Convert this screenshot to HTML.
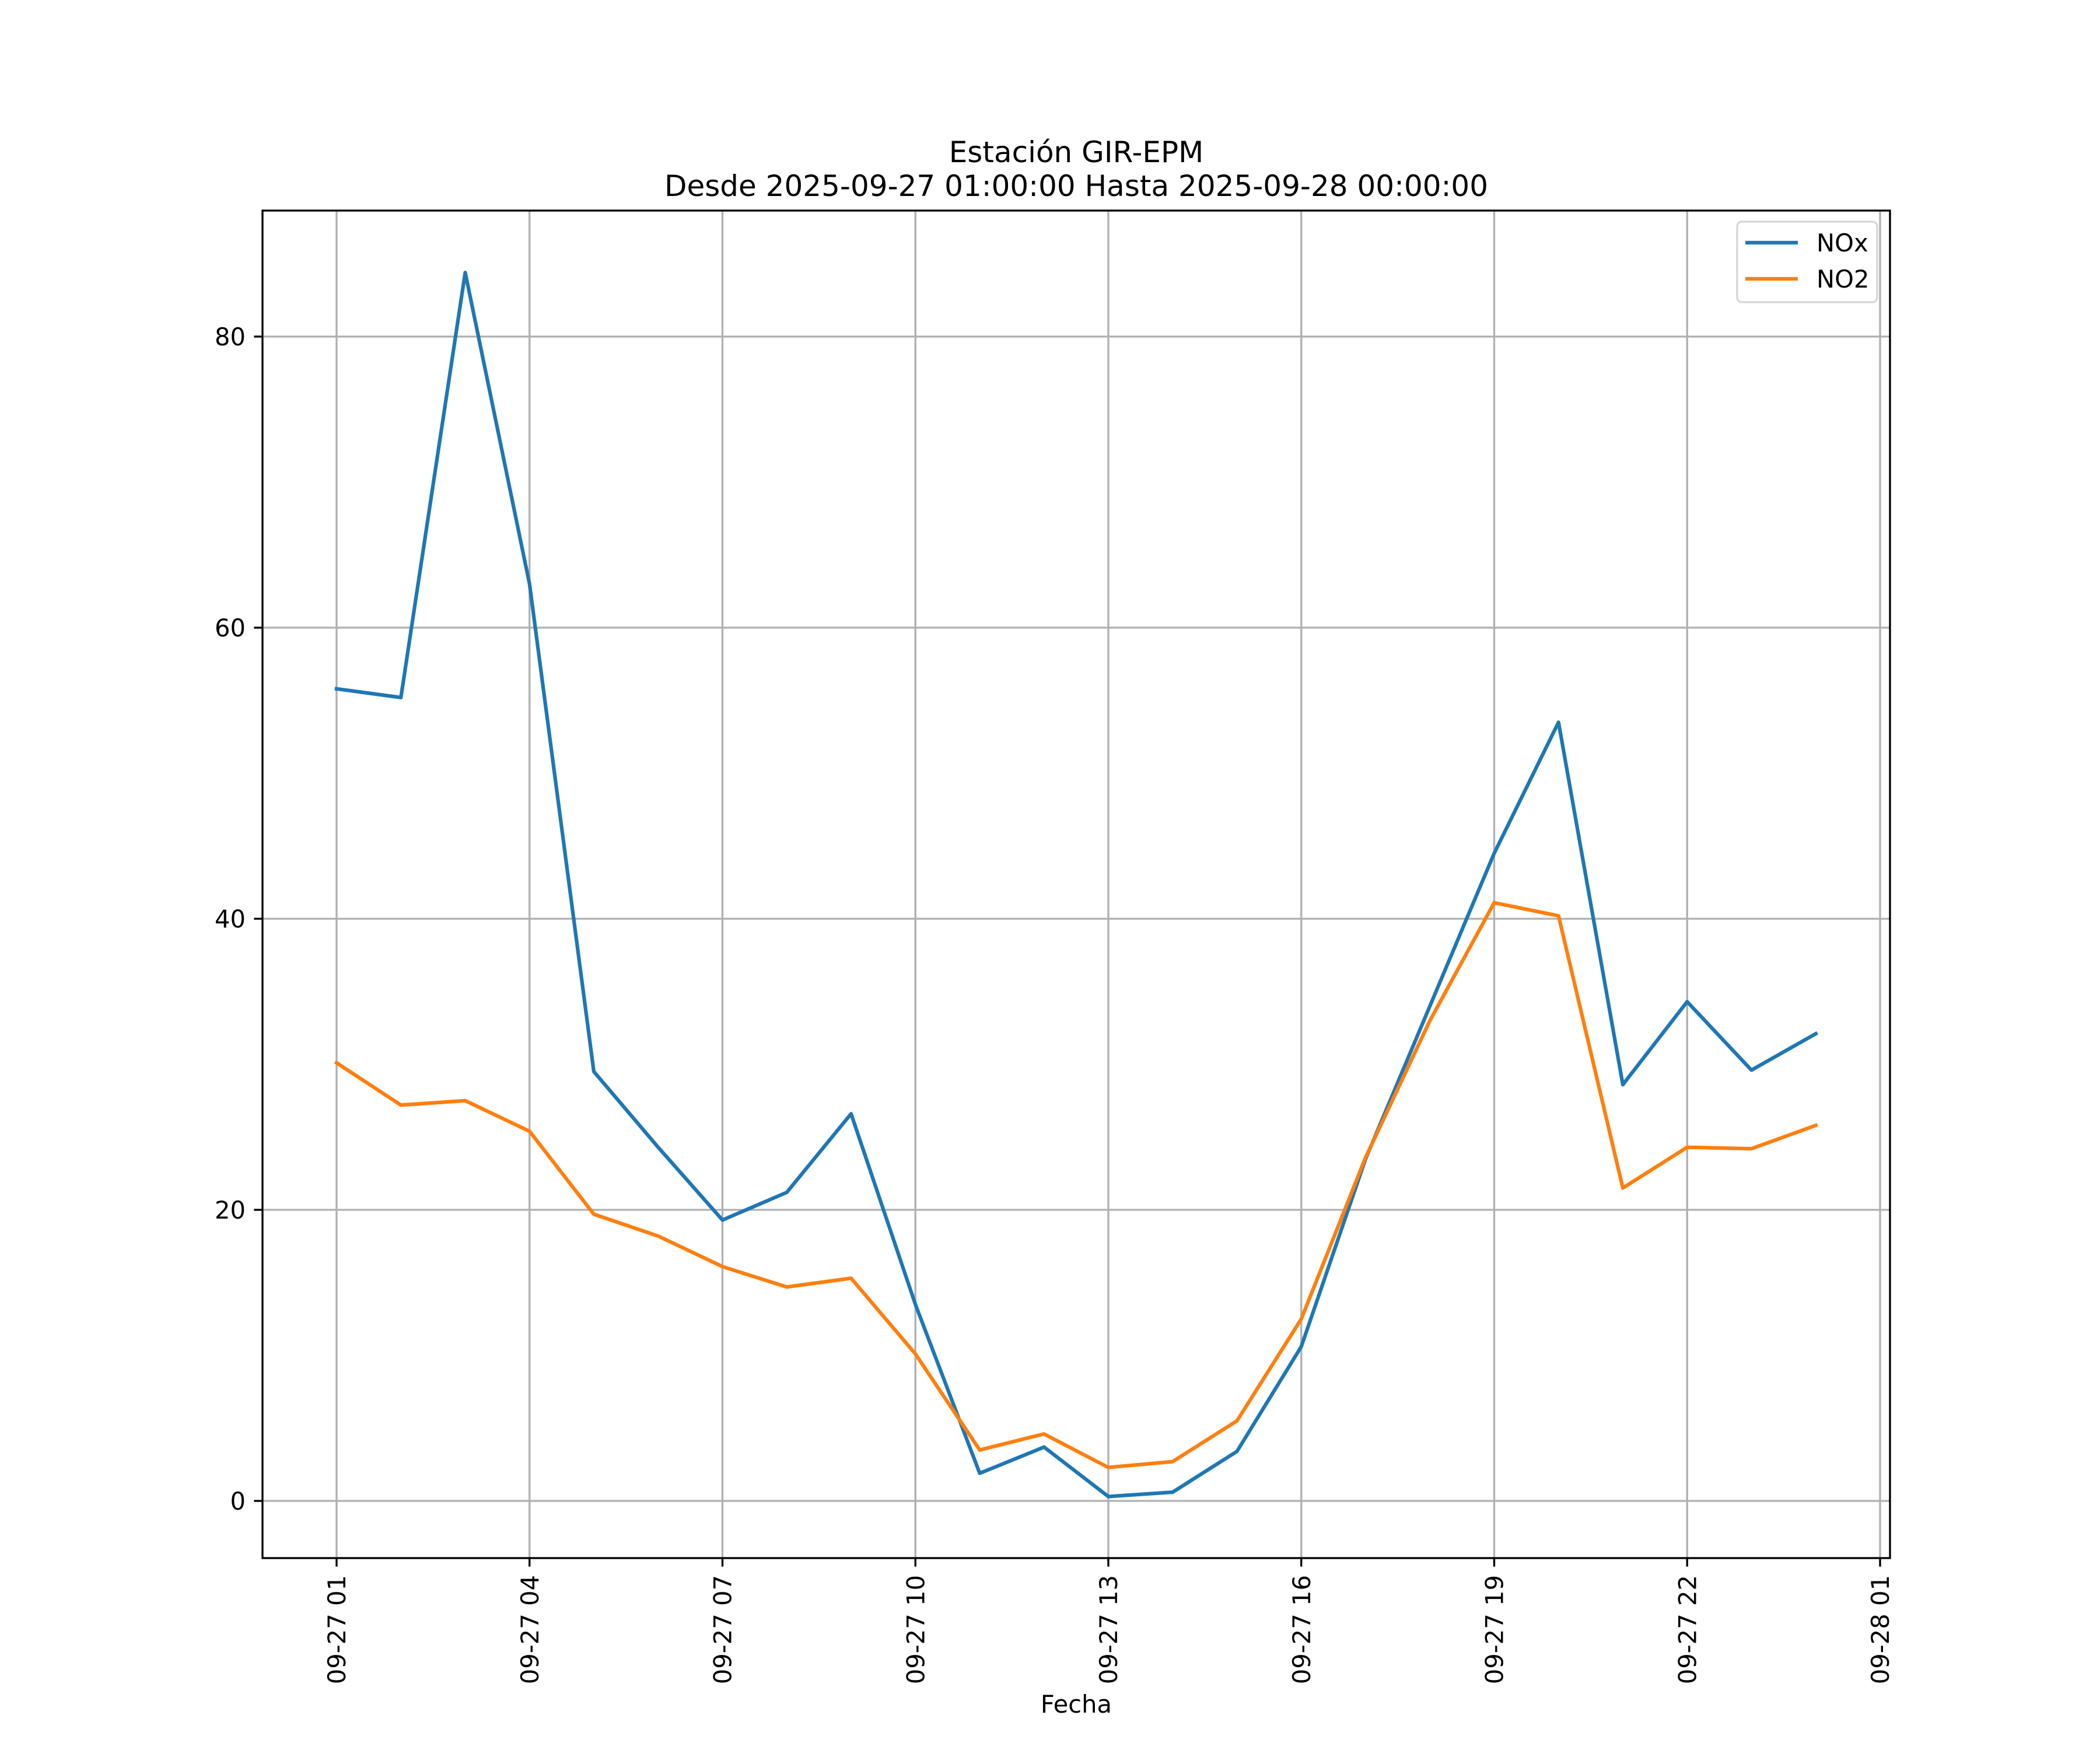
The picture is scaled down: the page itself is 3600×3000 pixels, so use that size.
<!DOCTYPE html>
<html><head><meta charset="utf-8"><style>html,body{margin:0;padding:0;background:#fff}svg{display:block}text{font-family:"DejaVu Sans","Liberation Sans",sans-serif;fill:#000}</style></head>
<body>
<svg id="chart" xmlns="http://www.w3.org/2000/svg" width="3600" height="3000" viewBox="0 0 3600 3000">
<rect width="3600" height="3000" fill="#fff"/>
<g id="grid"></g>
<g id="series"></g>
<rect x="450" y="361" width="2790" height="2310" fill="none" stroke="#000" stroke-width="3.33"/>
<g id="ticks"></g>
<text x="1845" y="278" font-size="50" text-anchor="middle">Estación GIR-EPM</text>
<text x="1845" y="336" font-size="50" text-anchor="middle">Desde 2025-09-27 01:00:00 Hasta 2025-09-28 00:00:00</text>
<text x="1845" y="2936" font-size="41.67" text-anchor="middle">Fecha</text>
<g>
<rect x="2978" y="380" width="240" height="138" rx="8" fill="#fff" fill-opacity="0.8" stroke="#d6d6d6" stroke-width="3.33"/>
<g><line x1="2992" y1="416" x2="3082" y2="416" stroke="#1f77b4" stroke-width="6.25"/><text x="3114" y="431" font-size="41.67">NOx</text></g>
<g><line x1="2992" y1="478" x2="3082" y2="478" stroke="#ff7f0e" stroke-width="6.25"/><text x="3114" y="493" font-size="41.67">NO2</text></g>
</g>
</svg>
<script>
const hours = [1,2,3,4,5,6,7,8,9,10,11,12,13,14,15,16,17,18,19,20,21,22,23,24];
const noxValues = [55.8,55.2,84.4,63,29.5,24.3,19.3,21.2,26.6,13.5,1.9,3.7,0.3,0.6,3.4,10.6,23.5,34,44.5,53.5,28.6,34.3,29.6,32.1];
const no2Values = [30.1,27.2,27.5,25.4,19.7,18.2,16.1,14.7,15.3,10.1,3.5,4.6,2.3,2.7,5.5,12.5,23.6,33,41.1,40.2,21.5,24.3,24.2,25.8];
const yTicks = [0,20,40,60,80];
const xTickHours = [1,4,7,10,13,16,19,22,25];
const xTickLabels = ["09-27 01","09-27 04","09-27 07","09-27 10","09-27 13","09-27 16","09-27 19","09-27 22","09-28 01"];

const NS = "http://www.w3.org/2000/svg";
function xs(h){return 577 + (h-1)*110.25;}
function ys(v){return 2573 - v*24.95;}
function mk(tag, attrs, parent){const e=document.createElementNS(NS,tag);for(const k in attrs)e.setAttribute(k,attrs[k]);parent.appendChild(e);return e;}
const grid=document.getElementById('grid'), ticks=document.getElementById('ticks'), series=document.getElementById('series');

yTicks.forEach(v=>{
  const y=ys(v);
  const g=mk('line',{x1:450,x2:3240,y1:y,y2:y,stroke:'#b0b0b0','stroke-width':3.33},grid);
  
  
  const t=mk('line',{x1:435.4,x2:450,y1:y,y2:y,stroke:'#000','stroke-width':3.33},ticks);
  
  
  const l=mk('text',{x:421,y:y+15,'font-size':41.67,'text-anchor':'end'},ticks);
  l.textContent=String(v);
  
  
});
xTickHours.forEach((h,i)=>{
  const x=xs(h);
  const g=mk('line',{x1:x,x2:x,y1:361,y2:2671,stroke:'#b0b0b0','stroke-width':3.33},grid);
  
  
  const t=mk('line',{x1:x,x2:x,y1:2671,y2:2685.6,stroke:'#000','stroke-width':3.33},ticks);
  
  
  const l=mk('text',{x:0,y:0,'font-size':41.67,'text-anchor':'end',transform:`translate(${x+15},2700) rotate(-90)`},ticks);
  l.textContent=xTickLabels[i];
  
  
});
function drawLine(vals,color,name){
  const pts=vals.map((v,i)=>xs(hours[i])+','+ys(v)).join(' ');
  const p=mk('polyline',{points:pts,fill:'none',stroke:color,'stroke-width':6.25,'stroke-linejoin':'round','stroke-linecap':'square'},series);
  
  
}
drawLine(noxValues,'#1f77b4','nox-line');
drawLine(no2Values,'#ff7f0e','no2-line');
</script>
</body></html>
